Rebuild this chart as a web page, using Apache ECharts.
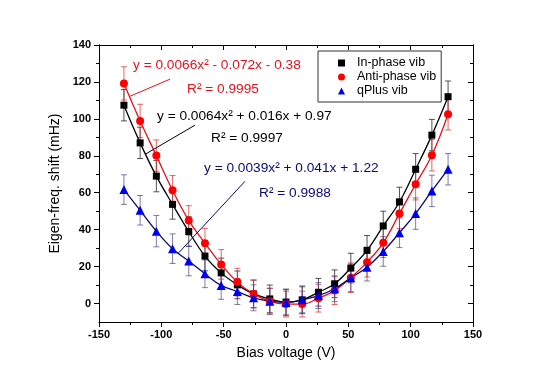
<!DOCTYPE html>
<html>
<head>
<meta charset="utf-8">
<script src="https://cdn.jsdelivr.net/npm/echarts@6/dist/echarts.min.js"></script>
<style>
html,body{margin:0;padding:0;background:#fff;}
#chart{width:550px;height:386px;}
</style>
</head>
<body>
<div id="chart"></div>
<script>
// ---- data ----
const voltages = [-130,-117,-104,-91,-78,-65,-52,-39,-26,-13,0,13,26,39,52,65,78,91,104,117,130];
const inPhase   = [107.4,87,69,53.7,39,25.7,16.6,10.1,5.2,2.5,0.8,2,6.1,10.7,19.2,28.8,42,55,72.7,91.2,112];
const antiPhase = [119.2,98.9,80.1,61.3,45,32.7,21.2,11.6,5.2,1.2,-0.3,-0.3,2.9,7,14,22.4,32.9,48.7,64.6,80.3,102.5];
const qPlus     = [61.7,50.5,39.2,29.7,23,16.1,9.8,6.5,3.1,1.3,0.5,2,4.3,8,13.9,19.7,28.2,38.3,48.7,61,72.7];
const inPhaseErr   = [8.5,8.5,8.5,8,8,8,8,7.5,7.5,7.5,7,7.5,7.5,7.5,8,8,8,8,8.5,8.5,8.5];
const antiPhaseErr = [9,9,8.5,8,8,8,8,7.5,7.5,7,7,7,7.5,7.5,8,8,8,8,8.5,8.5,8.5];
const qPlusErr     = [8,8,8.5,8,8,7.5,7.5,7,7,7,7,7,7,7,7.5,7.5,8,8,8.5,8.5,8.5];
const seriesNames = ['In-phase vib','Anti-phase vib','qPlus vib'];
const yMajorTicks = [0,20,40,60,80,100,120,140];
const yMinorTicks = [10,30,50,70,90,110,130];
// annotation leader lines (data coords)
const leaderRed   = [[-125,112.3],[-93,121.5]];
const leaderBlack = [[-113,80.8],[-73,96.6]];
const leaderBlue  = [[-86.6,27.1],[-32.9,66.2]];

const FONT = 'Liberation Sans, Arial, sans-serif';
const chart = echarts.init(document.getElementById('chart'), null, {renderer:'canvas'});

function pairs(vals){ return voltages.map((v,i)=>[v, vals[i]]); }
function errData(vals, err){ return voltages.map((v,i)=>[v, vals[i]-err[i], vals[i]+err[i]]); }
function errSeries(vals, err, color){
  return {
    type:'custom', xAxisIndex:0, yAxisIndex:0, z:2, silent:true,
    data: errData(vals, err),
    encode:{x:0, y:[1,2]},
    renderItem:function(params, api){
      const x = api.value(0);
      const lo = api.coord([x, api.value(1)]);
      const hi = api.coord([x, api.value(2)]);
      const w = 3;
      const st = {stroke:color, lineWidth:1};
      return {type:'group', children:[
        {type:'line', shape:{x1:lo[0],y1:lo[1],x2:hi[0],y2:hi[1]}, style:st},
        {type:'line', shape:{x1:lo[0]-w,y1:lo[1],x2:lo[0]+w,y2:lo[1]}, style:st},
        {type:'line', shape:{x1:hi[0]-w,y1:hi[1],x2:hi[0]+w,y2:hi[1]}, style:st}
      ]};
    }
  };
}
function fitLine(vals, color, leader){
  return {
    type:'line', xAxisIndex:0, yAxisIndex:0, z:3, silent:true,
    data: pairs(vals), smooth:0.4, showSymbol:false, symbol:'none',
    lineStyle:{color:color, width:1.3},
    markLine:{silent:true, symbol:['none','none'], label:{show:false},
      lineStyle:{color:color, width:1, type:'solid'},
      emphasis:{disabled:true},
      data:[[{coord:leader[0]},{coord:leader[1]}]]}
  };
}
function pts(name, vals, color, symbol, size){
  return {name:name, type:'scatter', xAxisIndex:0, yAxisIndex:0, z:4,
    data: pairs(vals), symbol:symbol, symbolSize:size,
    itemStyle:{color:color, opacity:1}};
}

const axisLineStyle = {show:true, onZero:false, lineStyle:{color:'#000', width:1}};
const tickLabel = {fontFamily:FONT, fontSize:11, fontWeight:'bold', color:'#000'};

const yBase = {type:'value', min:-10, max:140, interval:10, splitLine:{show:false}, axisLine:axisLineStyle};

const option = {
  backgroundColor:'#fff',
  animation:false,
  grid:{left:99, right:77, top:45, bottom:64, containLabel:false},
  legend:{
    orient:'vertical', left:318, top:51,
    padding:[5,5,4,20], itemGap:0, itemWidth:7, itemHeight:7,
    borderColor:'#333', borderWidth:1, backgroundColor:'#fff',
    formatter:function(name){ return '{t|' + name + '}'; },
    textStyle:{fontFamily:FONT, fontSize:12.5, color:'#000', lineHeight:14,
      rich:{t:{fontFamily:FONT, fontSize:12.5, color:'#000', lineHeight:14, padding:[0,0,0,7]}}},
    data:[{name:seriesNames[0], icon:'rect'},{name:seriesNames[1], icon:'circle'},{name:seriesNames[2], icon:'triangle'}],
    selectedMode:false
  },
  xAxis:[
    {type:'value', position:'bottom', min:-150, max:150, interval:50,
     name:'Bias voltage (V)', nameLocation:'middle', nameGap:24,
     nameTextStyle:{fontFamily:FONT, fontSize:14, color:'#000'},
     axisLine:axisLineStyle, splitLine:{show:false},
     axisTick:{show:true, length:5, lineStyle:{color:'#000'}},
     minorTick:{show:true, splitNumber:2, length:3, lineStyle:{color:'#000'}},
     axisLabel:{...tickLabel, margin:7}},
    {type:'value', position:'top', min:-150, max:150, interval:50,
     axisLine:axisLineStyle, splitLine:{show:false},
     axisTick:{show:true, inside:true, length:5, lineStyle:{color:'#000'}},
     minorTick:{show:true, splitNumber:2, length:3, lineStyle:{color:'#000'}},
     axisLabel:{show:false}}
  ],
  yAxis:[
    {...yBase, position:'left',
     name:'Eigen-freq. shift (mHz)', nameLocation:'middle', nameGap:34, nameRotate:90,
     nameTextStyle:{fontFamily:FONT, fontSize:14, color:'#000'},
     axisTick:{show:true, length:5, customValues:yMajorTicks, lineStyle:{color:'#000'}},
     axisLabel:{...tickLabel, margin:8, customValues:yMajorTicks}},
    {...yBase, position:'left',
     axisTick:{show:true, length:3, customValues:yMinorTicks, lineStyle:{color:'#000'}},
     axisLabel:{show:false, customValues:yMinorTicks}},
    {...yBase, position:'right',
     axisTick:{show:true, inside:true, length:5, customValues:yMajorTicks, lineStyle:{color:'#000'}},
     axisLabel:{show:false, customValues:yMajorTicks}},
    {...yBase, position:'right',
     axisTick:{show:true, inside:true, length:3, customValues:yMinorTicks, lineStyle:{color:'#000'}},
     axisLabel:{show:false, customValues:yMinorTicks}}
  ],
  series:[
    errSeries(inPhase, inPhaseErr, 'rgba(40,40,40,0.8)'),
    errSeries(antiPhase, antiPhaseErr, 'rgba(225,50,50,0.75)'),
    errSeries(qPlus, qPlusErr, 'rgba(70,70,140,0.7)'),
    fitLine(inPhase, '#000000', leaderBlack),
    fitLine(antiPhase, '#e8101a', leaderRed),
    fitLine(qPlus, '#0a0a78', leaderBlue),
    pts(seriesNames[0], inPhase, '#000000', 'rect', 7),
    pts(seriesNames[1], antiPhase, '#ff0000', 'circle', 8),
    pts(seriesNames[2], qPlus, '#0000ee', 'triangle', 9)
  ],
  graphic:[
    {type:'text', left:133, top:58, style:{text:'y = 0.0066x² - 0.072x - 0.38', font:'13.7px '+FONT, fill:'#e8101a'}},
    {type:'text', left:187, top:82, style:{text:'R² = 0.9995', font:'13.7px '+FONT, fill:'#e8101a'}},
    {type:'text', left:157, top:109, style:{text:'y = 0.0064x² + 0.016x + 0.97', font:'13.7px '+FONT, fill:'#000'}},
    {type:'text', left:211, top:131, style:{text:'R² = 0.9997', font:'13.7px '+FONT, fill:'#000'}},
    {type:'text', left:204, top:161, style:{text:'y = 0.0039x² + 0.041x + 1.22', font:'13.7px '+FONT, fill:'#0a0a78'}},
    {type:'text', left:259, top:186, style:{text:'R² = 0.9988', font:'13.7px '+FONT, fill:'#0a0a78'}}
  ]
};
chart.setOption(option);
</script>
</body>
</html>
